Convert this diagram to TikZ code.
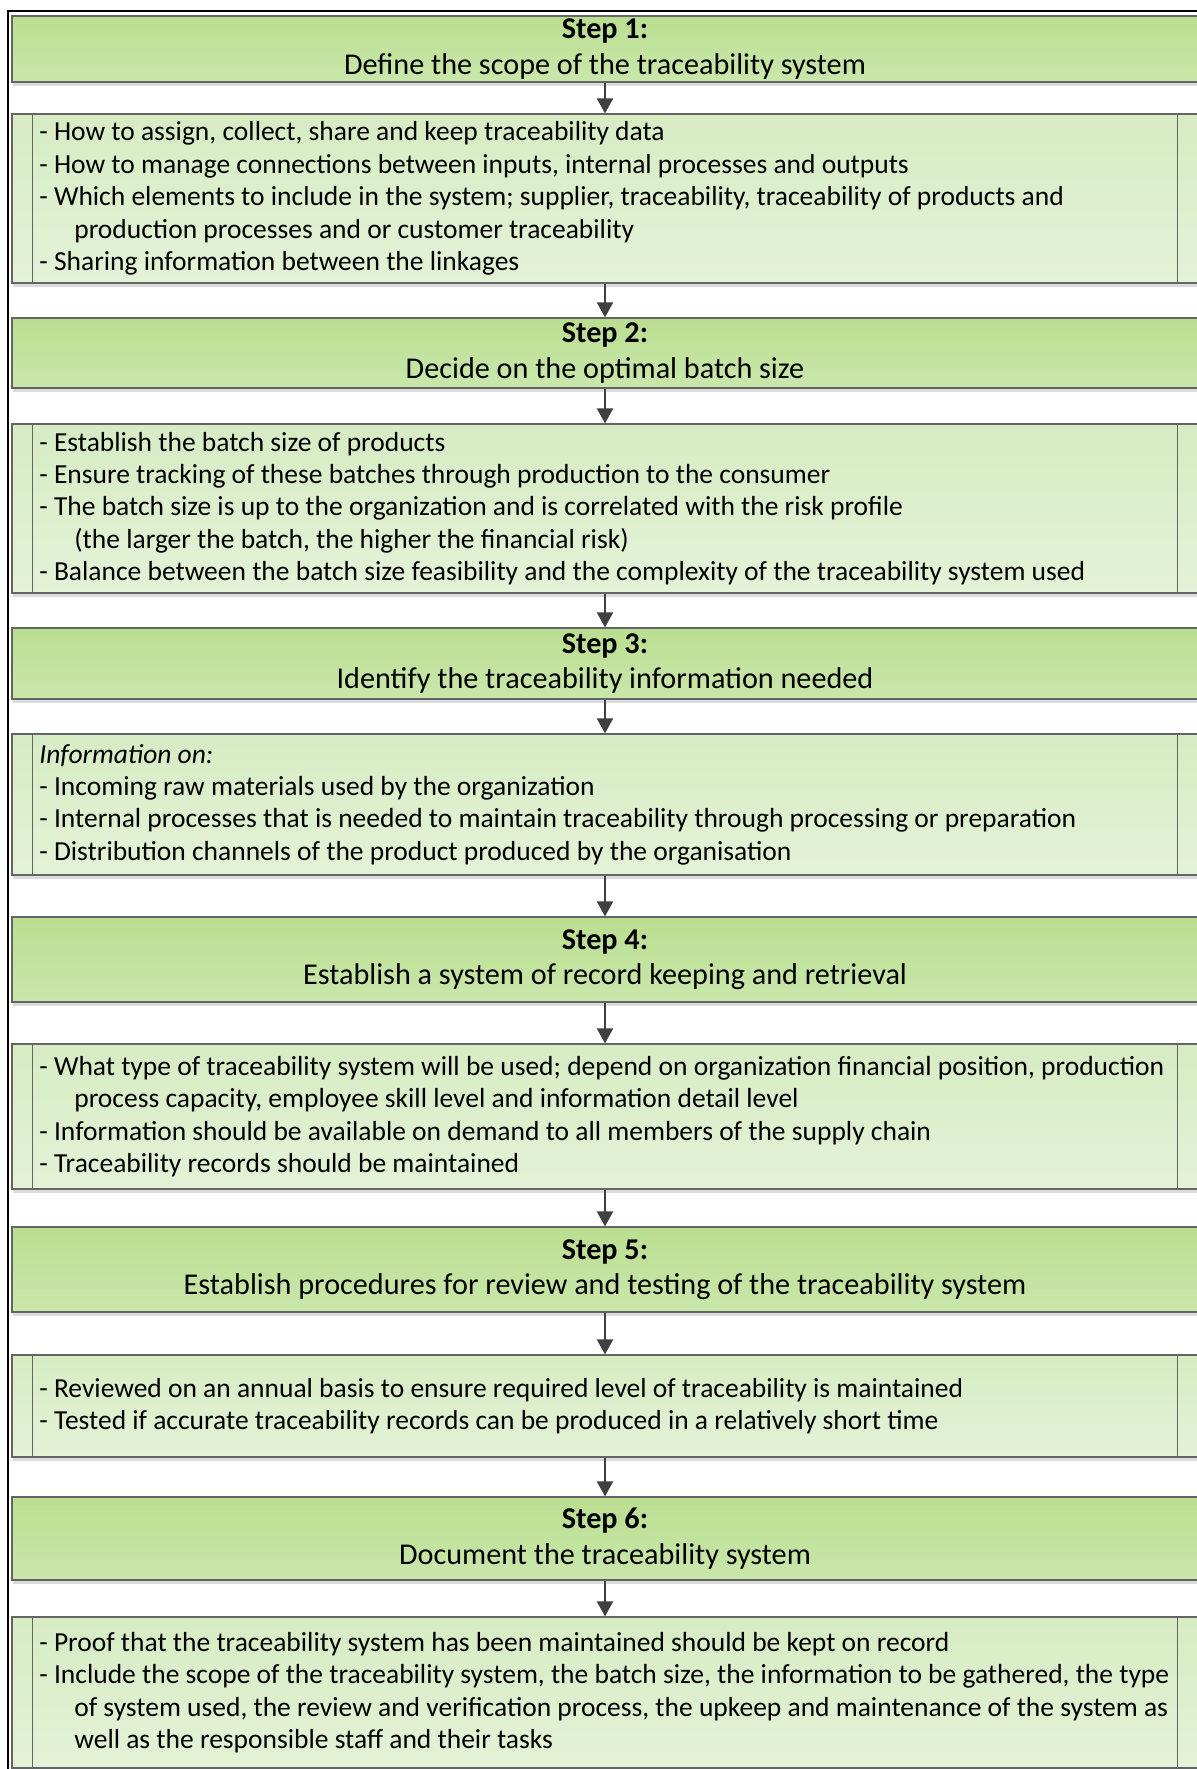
\documentclass[tikz,border=0pt]{standalone}
\usepackage{fontspec}
\setmainfont{Carlito}
\usetikzlibrary{arrows.meta,shadows}
\definecolor{hdrtop}{RGB}{186,222,144}
\definecolor{hdrbot}{RGB}{202,231,171}
\definecolor{dtop}{RGB}{214,236,195}
\definecolor{dbot}{RGB}{228,242,215}
\definecolor{edge}{RGB}{100,100,100}
\definecolor{arrowc}{RGB}{64,64,64}
\tikzset{
  hdr/.style={draw=edge, line width=0.6pt, top color=hdrtop, bottom color=hdrbot,
    minimum width=593pt, inner sep=0pt,
    drop shadow={shadow xshift=0.6pt, shadow yshift=-2pt, fill=black!14, opacity=1}},
  detail/.style={draw=edge, line width=0.6pt, top color=dtop, bottom color=dbot,
    minimum width=593pt, inner sep=0pt,
    drop shadow={shadow xshift=0.6pt, shadow yshift=-2pt, fill=black!14, opacity=1}},
  htext/.style={align=center, font=\fontsize{15.1}{17.8}\selectfont, inner sep=0pt},
  dtext/.style={align=left, font=\fontsize{13.75}{16.2}\selectfont, inner sep=0pt, anchor=west},
  strip/.style={draw=edge, line width=0.6pt},
  arr/.style={draw=arrowc, line width=1pt, -{Triangle[width=8pt,length=7.5pt]}},
}
\newcommand{\cont}{\hspace*{17.5pt}}
\begin{document}
\begin{tikzpicture}[x=0.5pt,y=-0.5pt]
\useasboundingbox (0,0) rectangle (1197,1769);
\clip (0,0) rectangle (1197,1769);
\fill[white] (0,0) rectangle (1197,1769);

% boxes
\node[hdr, minimum height=33pt] (h1) at (605,49) {};
\node[detail, minimum height=84.5pt] (d1) at (605,198.5) {};
\node[hdr, minimum height=35pt] (h2) at (605,353) {};
\node[detail, minimum height=84.5pt] (d2) at (605,508.5) {};
\node[hdr, minimum height=35.5pt] (h3) at (605,663.5) {};
\node[detail, minimum height=70.5pt] (d3) at (605,804.5) {};
\node[hdr, minimum height=42.5pt] (h4) at (605,959.5) {};
\node[detail, minimum height=72.5pt] (d4) at (605,1116.5) {};
\node[hdr, minimum height=42.5pt] (h5) at (605,1269.5) {};
\node[detail, minimum height=51pt] (d5) at (605,1406) {};
\node[hdr, minimum height=41.5pt] (h6) at (605,1538.5) {};
\node[detail, minimum height=75.5pt] (d6) at (605,1692.5) {};

% strips inside detail boxes
\foreach \d in {d1,d2,d3,d4,d5,d6}{
  \draw[strip] ([xshift=10.5pt]\d.north west) -- ([xshift=10.5pt]\d.south west);
  \draw[strip] ([xshift=-10.5pt]\d.north east) -- ([xshift=-10.5pt]\d.south east);
}

% header texts
\node[htext] (t1) at (h1) {\textbf{Step 1:}\\Define the scope of the traceability system};
\node[htext] (t2) at (h2) {\textbf{Step 2:}\\Decide on the optimal batch size};
\node[htext] (t3) at (h3) {\textbf{Step 3:}\\Identify the traceability information needed};
\node[htext] (t4) at (h4) {\textbf{Step 4:}\\Establish a system of record keeping and retrieval};
\node[htext] (t5) at (h5) {\textbf{Step 5:}\\Establish procedures for review and testing of the traceability system};
\node[htext] (t6) at (h6) {\textbf{Step 6:}\\Document the traceability system};

% detail texts
\node[dtext] (x1) at (39,198.5) {- How to assign, collect, share and keep traceability data\\
- How to manage connections between inputs, internal processes and outputs\\
- Which elements to include in the system; supplier, traceability, traceability of products and\\
\cont production processes and or customer traceability\\
- Sharing information between the linkages};
\node[dtext] (x2) at (39,508.5) {- Establish the batch size of products\\
- Ensure tracking of these batches through production to the consumer\\
- The batch size is up to the organization and is correlated with the risk profile\\
\cont (the larger the batch, the higher the financial risk)\\
- Balance between the batch size feasibility and the complexity of the traceability system used};
\node[dtext] (x3) at (39,804.5) {\textit{Information on:}\\
- Incoming raw materials used by the organization\\
- Internal processes that is needed to maintain traceability through processing or preparation\\
- Distribution channels of the product produced by the organisation};
\node[dtext] (x4) at (39,1116.5) {- What type of traceability system will be used; depend on organization financial position, production\\
\cont process capacity, employee skill level and information detail level\\
- Information should be available on demand to all members of the supply chain\\
- Traceability records should be maintained};
\node[dtext] (x5) at (39,1406) {- Reviewed on an annual basis to ensure required level of traceability is maintained\\
- Tested if accurate traceability records can be produced in a relatively short time};
\node[dtext] (x6) at (39,1692.5) {- Proof that the traceability system has been maintained should be kept on record\\
- Include the scope of the traceability system, the batch size, the information to be gathered, the type\\
\cont of system used, the review and verification process, the upkeep and maintenance of the system as\\
\cont well as the responsible staff and their tasks};

% arrows
\draw[arr] (h1.south) -- (d1.north);
\draw[arr] (d1.south) -- (h2.north);
\draw[arr] (h2.south) -- (d2.north);
\draw[arr] (d2.south) -- (h3.north);
\draw[arr] (h3.south) -- (d3.north);
\draw[arr] (d3.south) -- (h4.north);
\draw[arr] (h4.south) -- (d4.north);
\draw[arr] (d4.south) -- (h5.north);
\draw[arr] (h5.south) -- (d5.north);
\draw[arr] (d5.south) -- (h6.north);
\draw[arr] (h6.south) -- (d6.north);

% outer frame
\draw[black, line width=1pt] (8,1800) -- (8,10.5) -- (1250,10.5);
\end{tikzpicture}
\end{document}
